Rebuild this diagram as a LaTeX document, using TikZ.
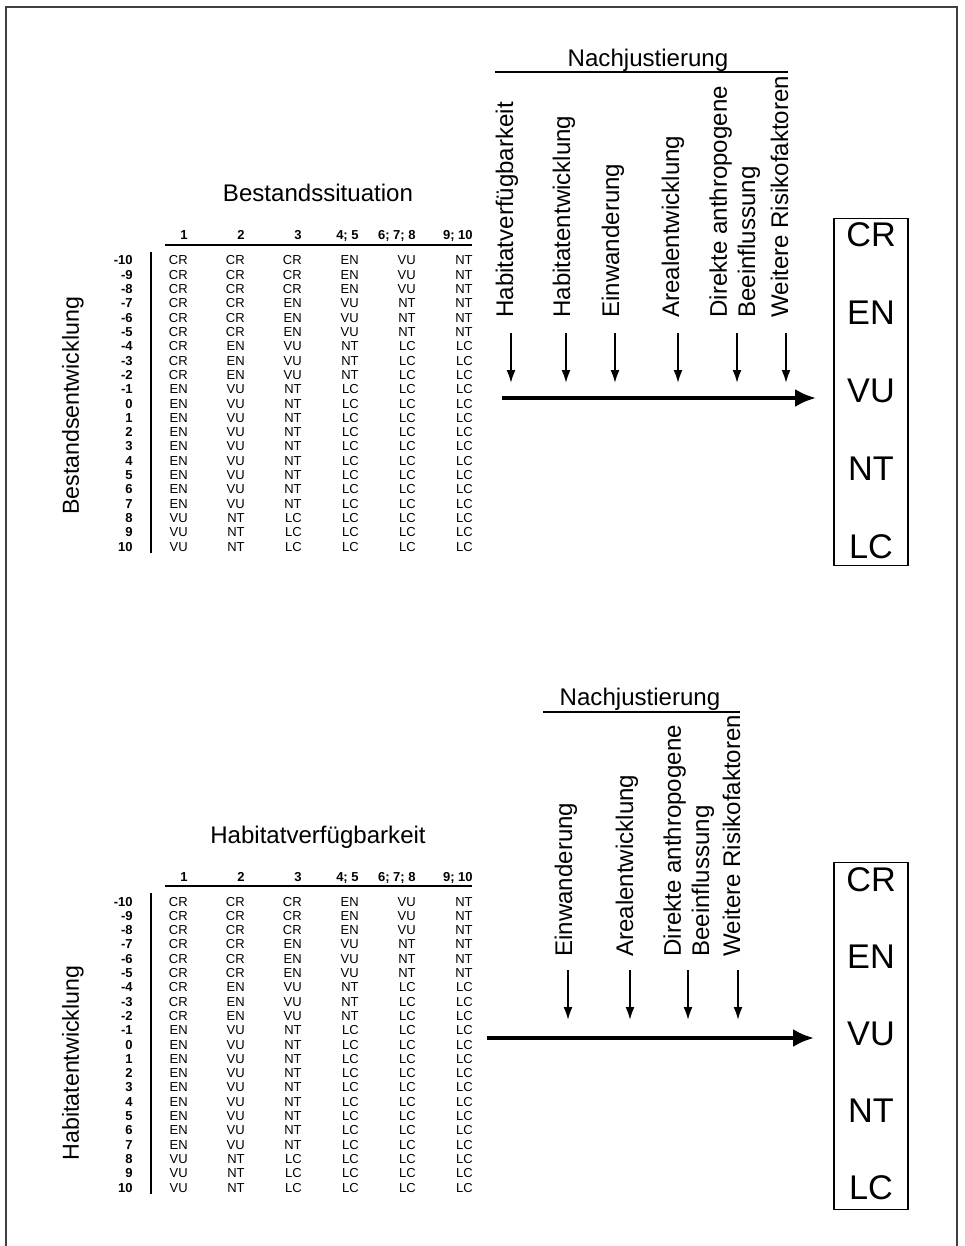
\documentclass[tikz,border=0pt]{standalone}
\usepackage{fontspec}
\setmainfont{Liberation Sans}
\usetikzlibrary{arrows.meta}

\begin{document}
\begin{tikzpicture}[x=0.02cm, y=-0.02cm,
    cell/.style     = {anchor=base east, inner sep=0pt,
                       font=\fontsize{7.4}{8}\selectfont},
    headcell/.style = {cell, font=\fontsize{7.4}{8}\selectfont\bfseries},
    title/.style    = {inner sep=0pt, font=\fontsize{13.7}{16}\selectfont},
    factor/.style   = {title, rotate=90, anchor=base west, align=left},
    category/.style = {inner sep=0pt, font=\fontsize{19.5}{22}\selectfont},
    catbox/.style   = {draw, line width=1pt, minimum width=1.48cm,
                       minimum height=6.94cm},
    nudge/.style    = {-{Latex[length=0.26cm, width=0.18cm]}, line width=1.1pt},
    mainarrow/.style= {-{Latex[length=0.42cm, width=0.36cm]}, line width=2.6pt}]

  % Fix the size of the page: one unit is one pixel of the reference

  \useasboundingbox (0,0) rectangle (964,1246);

  % Frame, open at the bottom

  \draw[gray!50!black, line width=0.9pt]
    (6,1246) -- (6,7) -- (957,7) -- (957,1246);

  % The two tables hold the same entries,
  %   the lower one is shifted down by 641 units.
  %   Entries sit on their baseline, 4 units below the row centre.

  \foreach \tab/\down in {top/0, bot/641} {
    \begin{scope}[shift={(0,\down)}]
      %
      % Column headers, right aligned like the entries
      \foreach \h [count=\col] in {1, 2, 3, {4; 5}, {6; 7; 8}, {9; 10}}
        \node[headcell] (\tab-h\col) at (188+57*\col-57, 240) {\h};
      \draw[line width=0.8pt] (165,245) -- (472,245);
      \draw[line width=0.6pt] (151,252) -- (151,553);
      %
      % One row for each value of the development
      \foreach \lab/\va/\vb/\vc/\vd/\ve/\vf [count=\row from 0] in {
          -10/CR/CR/CR/EN/VU/NT, -9/CR/CR/CR/EN/VU/NT, -8/CR/CR/CR/EN/VU/NT,
          -7/CR/CR/EN/VU/NT/NT,  -6/CR/CR/EN/VU/NT/NT, -5/CR/CR/EN/VU/NT/NT,
          -4/CR/EN/VU/NT/LC/LC,  -3/CR/EN/VU/NT/LC/LC, -2/CR/EN/VU/NT/LC/LC,
          -1/EN/VU/NT/LC/LC/LC,  0/EN/VU/NT/LC/LC/LC,  1/EN/VU/NT/LC/LC/LC,
          2/EN/VU/NT/LC/LC/LC,   3/EN/VU/NT/LC/LC/LC,  4/EN/VU/NT/LC/LC/LC,
          5/EN/VU/NT/LC/LC/LC,   6/EN/VU/NT/LC/LC/LC,  7/EN/VU/NT/LC/LC/LC,
          8/VU/NT/LC/LC/LC/LC,   9/VU/NT/LC/LC/LC/LC,  10/VU/NT/LC/LC/LC/LC} {
        \node[headcell] (\tab-r\row) at (133, 265+14.3*\row) {\lab};
        \foreach \v [count=\col] in {\va, \vb, \vc, \vd, \ve, \vf}
          \node[cell] (\tab-\row-\col) at (188+57*\col-57, 265+14.3*\row) {\v};
      }
    \end{scope}
  }

  % Titles of the tables and of their rows

  \node[title] (sitA) at (318,193) {Bestandssituation};
  \node[title] (sitB) at (318,837) {Habitatverfügbarkeit};
  \node[title, rotate=90, font=\fontsize{13.2}{16}\selectfont] (devA)
    at (73,406) {Bestandsentwicklung};
  \node[title, rotate=90, font=\fontsize{13.2}{16}\selectfont] (devB)
    at (73,1063) {Habitatentwicklung};

  % Upper part: factors of the readjustment
  %   (for the two-line label the x is the baseline of the last line)

  \node[title, anchor=base] (adjA) at (648,67) {Nachjustierung};
  \draw[line width=0.6pt] (495,72) -- (788,72);

  \foreach \name/\bx/\ax/\txt in {
      hvA/513/511/Habitatverfügbarkeit,
      heA/570/566/Habitatentwicklung,
      ewA/619/615/Einwanderung,
      aeA/679/678/Arealentwicklung,
      daA/755/737/{Direkte anthropogene\\Beeinflussung},
      wrA/788/786/Weitere Risikofaktoren} {
    \node[factor] (\name) at (\bx,318) {\txt};
    \coordinate (\name-s) at (\ax,333);
    \coordinate (\name-e) at (\ax,383);
    \draw[nudge] (\name-s) -- (\name-e);
  }

  % Lower part: factors of the readjustment

  \node[title, anchor=base] (adjB) at (640,705) {Nachjustierung};
  \draw[line width=0.6pt] (543,712) -- (740,712);

  \foreach \name/\bx/\ax/\txt in {
      ewB/572/568/Einwanderung,
      aeB/633/630/Arealentwicklung,
      daB/709/688/{Direkte anthropogene\\Beeinflussung},
      wrB/740/738/Weitere Risikofaktoren} {
    \node[factor] (\name) at (\bx,957) {\txt};
    \coordinate (\name-s) at (\ax,970);
    \coordinate (\name-e) at (\ax,1020);
    \draw[nudge] (\name-s) -- (\name-e);
  }

  % Boxes with the categories

  \node[catbox] (boxA) at (871,392) {};
  \node[catbox] (boxB) at (871,1036) {};
  \foreach \cat [count=\k from 0] in {CR, EN, VU, NT, LC} {
    \node[category] (catA-\cat) at (871, 235+78*\k) {\cat};
    \node[category] (catB-\cat) at (871, 880+77*\k) {\cat};
  }

  % Main arrows from the tables to the boxes

  \coordinate (startA) at (502,398);
  \coordinate (startB) at (487,1038);
  \draw[mainarrow, shorten >=0.34cm] (startA) -- (startA -| boxA.west);
  \draw[mainarrow, shorten >=0.38cm] (startB) -- (startB -| boxB.west);

\end{tikzpicture}
\end{document}
